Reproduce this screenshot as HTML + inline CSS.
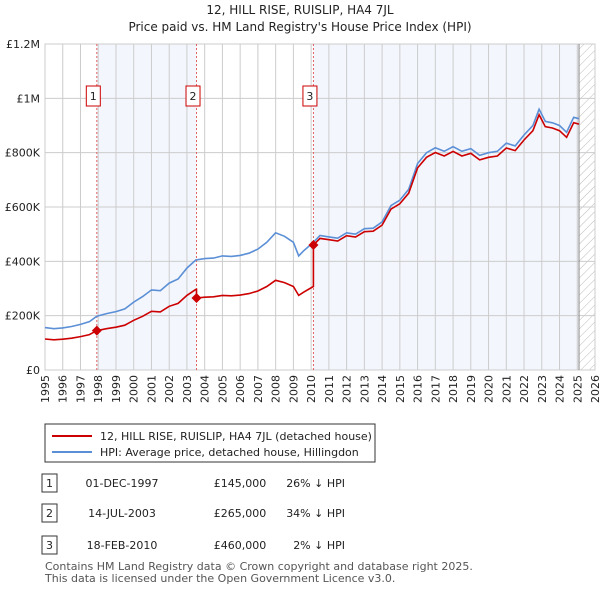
<!DOCTYPE html>
<html><head><meta charset="utf-8"><style>
body{margin:0;background:#fff;font-family:"Liberation Sans","DejaVu Sans",sans-serif;}
svg text{font-family:"DejaVu Sans","Liberation Sans",sans-serif;}
</style></head><body>
<svg id="c" width="600" height="590" viewBox="0 0 600 590" xmlns="http://www.w3.org/2000/svg">
<defs><pattern id="hatch" width="6" height="6" patternUnits="userSpaceOnUse" patternTransform="rotate(45)"><line x1="0" y1="0" x2="0" y2="6" stroke="#bbb" stroke-width="1"/></pattern></defs>
<text x="300" y="14" text-anchor="middle" font-size="12" fill="#222">12, HILL RISE, RUISLIP, HA4 7JL</text>
<text x="300" y="31" text-anchor="middle" font-size="12" fill="#222">Price paid vs. HM Land Registry's House Price Index (HPI)</text>
<g id="plot"></g>
<g>
<rect x="45" y="424" width="330" height="38" fill="#fff" stroke="#333"/>
<line x1="52" y1="436" x2="92" y2="436" stroke="#cc0000" stroke-width="2"/>
<text x="100" y="440" font-size="11" fill="#222">12, HILL RISE, RUISLIP, HA4 7JL (detached house)</text>
<line x1="52" y1="452" x2="92" y2="452" stroke="#5b8fd6" stroke-width="2"/>
<text x="100" y="456" font-size="11" fill="#222">HPI: Average price, detached house, Hillingdon</text>
</g>
<g id="table" font-size="11" fill="#222"></g>
<text x="45" y="570" font-size="11" fill="#555">Contains HM Land Registry data © Crown copyright and database right 2025.</text>
<text x="45" y="582" font-size="11" fill="#555">This data is licensed under the Open Government Licence v3.0.</text>
</svg>
<script>
const hpiYears=[1995,1995.5,1996,1996.5,1997,1997.5,1997.92,1998.5,1999,1999.5,2000,2000.5,2001,2001.5,2002,2002.5,2003,2003.5,2004,2004.5,2005,2005.5,2006,2006.5,2007,2007.5,2008,2008.5,2009,2009.3,2009.6,2010.13,2010.5,2011,2011.5,2012,2012.5,2013,2013.5,2014,2014.5,2015,2015.5,2016,2016.5,2017,2017.5,2018,2018.5,2019,2019.5,2020,2020.5,2021,2021.5,2022,2022.5,2022.85,2023.2,2023.6,2024,2024.4,2024.8,2025.1];
const hpiValues=[156,152,155,160,168,178,198,208,215,225,250,270,295,292,320,335,375,405,410,412,420,418,422,430,445,470,505,492,470,420,440,470,495,490,485,505,500,520,522,545,605,625,665,760,800,818,805,822,805,815,790,800,805,835,825,865,900,960,915,910,900,875,930,925];
const saleYears=[1997.92,2003.54,2010.13];
const salePrices=[145,265,460];
const saleLabels=["1","2","3"];
const saleDates=["01-DEC-1997","14-JUL-2003","18-FEB-2010"];
const salePriceText=["£145,000","£265,000","£460,000"];
const saleHpiText=["26% ↓ HPI","34% ↓ HPI","2% ↓ HPI"];
const yTicks=[0,200,400,600,800,1000,1200];
const yTickLabels=["£0","£200K","£400K","£600K","£800K","£1M","£1.2M"];
const xTicks=[1995,1996,1997,1998,1999,2000,2001,2002,2003,2004,2005,2006,2007,2008,2009,2010,2011,2012,2013,2014,2015,2016,2017,2018,2019,2020,2021,2022,2023,2024,2025,2026];

const X0=45,X1=595,Y0=370,Y1=44;
const xs=t=>X0+(t-1995)/(2026-1995)*(X1-X0);
const ys=v=>Y0-v/1200*(Y0-Y1);
const NS="http://www.w3.org/2000/svg";
const plot=document.getElementById('plot');
function mk(tag,at,parent){const e=document.createElementNS(NS,tag);for(const k in at)e.setAttribute(k,at[k]);(parent||plot).appendChild(e);return e;}
function hpiAt(t){for(let i=0;i<hpiYears.length-1;i++){if(t>=hpiYears[i]&&t<=hpiYears[i+1]){const f=(t-hpiYears[i])/(hpiYears[i+1]-hpiYears[i]);return hpiValues[i]+f*(hpiValues[i+1]-hpiValues[i]);}}return hpiValues[hpiValues.length-1];}
const endT=2025.1;
let r=mk('rect',{x:xs(saleYears[0]),y:Y1,width:xs(saleYears[1])-xs(saleYears[0]),height:Y0-Y1,fill:'#f3f6fd'});


r=mk('rect',{x:xs(saleYears[2]),y:Y1,width:xs(endT)-xs(saleYears[2]),height:Y0-Y1,fill:'#f3f6fd'});


r=mk('rect',{x:xs(endT),y:Y1,width:X1-xs(endT),height:Y0-Y1,fill:'url(#hatch)'});


yTicks.forEach((v,i)=>{const l=mk('line',{x1:X0,x2:X1,y1:ys(v),y2:ys(v),stroke:'#ccc','stroke-width':1});


const t=mk('text',{x:40,y:ys(v)+4,'text-anchor':'end','font-size':11,fill:'#222'});t.textContent=yTickLabels[i];

});
xTicks.forEach(y=>{const l=mk('line',{x1:xs(y),x2:xs(y),y1:Y1,y2:Y0,stroke:'#ccc','stroke-width':1});


const t=mk('text',{x:0,y:0,'text-anchor':'end','font-size':11,fill:'#222',transform:`translate(${xs(y)+4},375) rotate(-90)`});t.textContent=y;

});
let b=mk('rect',{x:X0,y:Y1,width:X1-X0,height:Y0-Y1,fill:'none',stroke:'#ccc'});


let el=mk('line',{x1:xs(endT),x2:xs(endT),y1:Y1,y2:Y0,stroke:'#888','stroke-width':1});


saleYears.forEach((s,i)=>{const l=mk('line',{x1:xs(s),x2:xs(s),y1:Y1,y2:Y0,stroke:'#e06060','stroke-width':1,'stroke-dasharray':'2,2'});


const bx=mk('rect',{x:xs(s)-10.5,y:86,width:14,height:20,fill:'#fff',stroke:'#cc0000'});


const t=mk('text',{x:xs(s)-3.5,y:100,'text-anchor':'middle','font-size':11,fill:'#222'});t.textContent=saleLabels[i];

});
let d='';hpiYears.forEach((t,i)=>{d+=(i?'L':'M')+xs(t).toFixed(1)+','+ys(hpiValues[i]).toFixed(1);});
let hp=mk('path',{d:d,fill:'none',stroke:'#5b8fd6','stroke-width':1.6});


let pd='';
const pts=[];
const tAll=hpiYears.slice();saleYears.forEach(s=>tAll.push(s));tAll.sort((a,b)=>a-b);
function ratioFor(t){let k=0;for(let i=0;i<saleYears.length;i++)if(t>=saleYears[i])k=i;return salePrices[k]/hpiAt(saleYears[k]);}
tAll.forEach(t=>{
 const si=saleYears.indexOf(t);
 if(si>0){const pr=salePrices[si-1]/hpiAt(saleYears[si-1]);pts.push([t,hpiAt(t)*pr]);}
 pts.push([t,hpiAt(t)*ratioFor(t)]);
});
pts.forEach((p,i)=>{pd+=(i?'L':'M')+xs(p[0]).toFixed(1)+','+ys(p[1]).toFixed(1);});
let pp=mk('path',{d:pd,fill:'none',stroke:'#cc0000','stroke-width':1.6});


saleYears.forEach((s,i)=>{const x=xs(s),y=ys(salePrices[i]);
const m=mk('path',{d:`M${x},${y-5}L${x+5},${y}L${x},${y+5}L${x-5},${y}Z`,fill:'#cc0000'});

});
const tb=document.getElementById('table');
const rowY=[483,513,545];
saleLabels.forEach((lab,i)=>{const y=rowY[i];
const bx=mk('rect',{x:42,y:y-9,width:15,height:18,fill:'#fff',stroke:'#333'},tb);


const cells=[[49.5,lab,'middle'],[122,saleDates[i],'middle'],[240,salePriceText[i],'middle'],[345,saleHpiText[i],'end']];
cells.forEach(c=>{const t=mk('text',{x:c[0],y:y+4,'text-anchor':c[2],'font-size':11,fill:'#222'},tb);t.textContent=c[1];

});});
</script>
</body></html>
